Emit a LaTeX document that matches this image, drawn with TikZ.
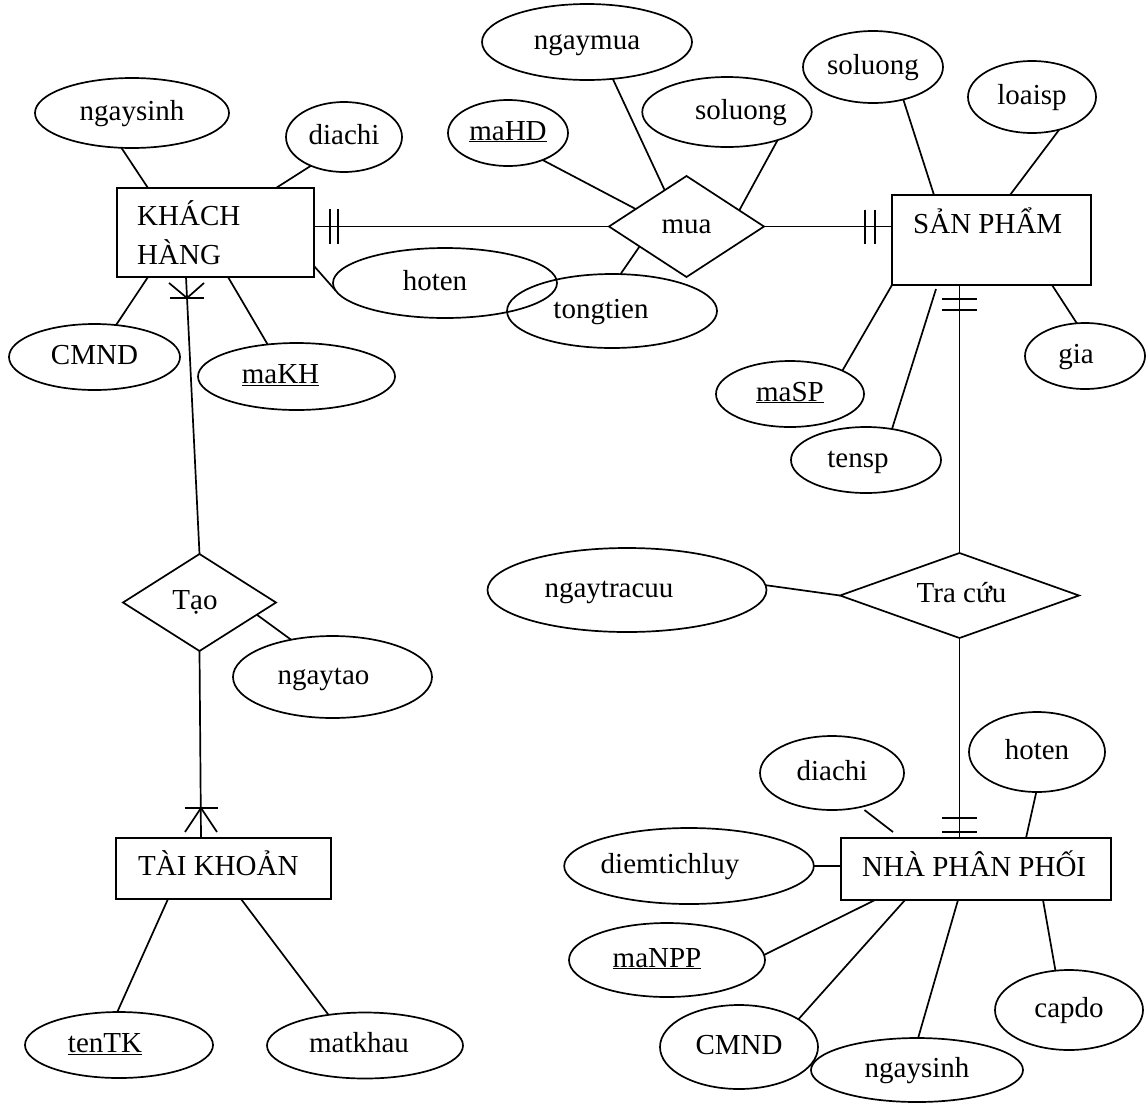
\documentclass[tikz,border=0pt]{standalone}
\usepackage{fontspec}
\setmainfont{Liberation Serif}
\usetikzlibrary{shapes.geometric,calc}
\begin{document}
\begin{tikzpicture}[x=1pt,y=-1pt,
  every node/.style={font=\fontsize{29}{35}\selectfont},
  attr/.style={draw, ellipse, line width=1.7pt, inner sep=0pt, outer sep=0pt, text height=20pt, text depth=6pt},
  ent/.style={draw, rectangle, line width=1.7pt, inner sep=0pt, outer sep=0pt},
  rel/.style={draw, diamond, shape aspect=3, line width=1.7pt, inner sep=0pt, outer sep=0pt, text height=20pt, text depth=6pt},
  conn/.style={line width=1.7pt},
  lbl/.style={inner sep=0pt, anchor=base west}]
\useasboundingbox (0,0) rectangle (1146,1104);

% entities
\node[ent, minimum width=197pt, minimum height=89pt] (kh) at (215.5,232.5) {};
\node[lbl] (khT1) at (137,225) {KHÁCH};
\node[lbl] (khT2) at (137,264) {HÀNG};
\node[ent, minimum width=199pt, minimum height=90pt] (sp) at (991.5,240) {};
\node[lbl] (spT) at (913,233) {SẢN PHẨM};
\node[ent, minimum width=215pt, minimum height=61pt] (tk) at (223.5,868.5) {};
\node[lbl] (tkT) at (138,875) {TÀI KHOẢN};
\node[ent, minimum width=270pt, minimum height=62pt] (npp) at (976,869) {};
\node[lbl] (nppT) at (862,876) {NHÀ PHÂN PHỐI};

% relationships
\node[rel, minimum width=155pt, minimum height=101pt] (mua) at (686.5,226.5) {mua};
\node[rel, minimum width=153pt, minimum height=97pt] (tao) at (199.5,602.5) {Tạo\hspace*{9pt}};
\node[rel, minimum width=239pt, minimum height=85pt] (tra) at (959.5,595.5) {\hspace*{4pt}Tra cứu};

% attributes
\node[attr, minimum width=194pt, minimum height=70pt] (ns1) at (132,113) {ngaysinh};
\node[attr, minimum width=116pt, minimum height=70pt] (dc1) at (344,137) {diachi};
\node[attr, minimum width=224pt, minimum height=70pt] (ht1) at (445,283) {hoten\hspace*{20pt}};
\node[attr, minimum width=171pt, minimum height=66pt] (cm1) at (94.5,357) {CMND};
\node[attr, minimum width=197pt, minimum height=67pt] (makh) at (296.5,376.5) {\underline{maKH}\hspace*{32pt}};
\node[attr, minimum width=210pt, minimum height=76pt] (nm) at (587,42) {ngaymua};
\node[attr, minimum width=120pt, minimum height=66pt] (mahd) at (508,133) {\underline{maHD}};
\node[attr, minimum width=140pt, minimum height=70pt] (sl1) at (727,112) {\hspace*{28pt}soluong};
\node[attr, minimum width=210pt, minimum height=74pt] (tt) at (612,311) {tongtien\hspace*{22pt}};
\node[attr, minimum width=140pt, minimum height=72pt] (sl2) at (873,67) {soluong};
\node[attr, minimum width=128pt, minimum height=72pt] (lsp) at (1032,97) {loaisp};
\node[attr, minimum width=120pt, minimum height=66pt] (gia) at (1085,356) {gia\hspace*{18pt}};
\node[attr, minimum width=148pt, minimum height=66pt] (masp) at (790,394) {\underline{maSP}};
\node[attr, minimum width=150pt, minimum height=66pt] (tensp) at (866,460) {tensp\hspace*{16pt}};
\node[attr, minimum width=279pt, minimum height=84pt] (ntc) at (627,590) {ngaytracuu\hspace*{36pt}};
\node[attr, minimum width=199pt, minimum height=82pt] (nt) at (332.5,677) {ngaytao\hspace*{18pt}};
\node[attr, minimum width=144pt, minimum height=74pt] (dc2) at (832,773) {diachi};
\node[attr, minimum width=136pt, minimum height=80pt] (ht2) at (1037,752) {hoten};
\node[attr, minimum width=226pt, minimum height=76pt] (dtl) at (689,866) {diemtichluy\hspace*{38pt}};
\node[attr, minimum width=196pt, minimum height=74pt] (manpp) at (667,960) {\underline{maNPP}\hspace*{20pt}};
\node[attr, minimum width=148pt, minimum height=80pt] (cd) at (1069,1010) {capdo};
\node[attr, minimum width=158pt, minimum height=84pt] (cm2) at (739,1047) {CMND};
\node[attr, minimum width=212pt, minimum height=64pt] (ns2) at (917,1070) {ngaysinh};
\node[attr, minimum width=188pt, minimum height=66pt] (tentk) at (119,1045) {\underline{tenTK}\hspace*{28pt}};
\node[attr, minimum width=196pt, minimum height=66pt] (mk) at (365,1045.5) {matkhau\hspace*{12pt}};

% KHACH HANG attributes
\draw[conn] (ns1.253) -- ([xshift=31pt]kh.north west);
\draw[conn] (dc1.221) -- ([xshift=-38pt]kh.north east);
\draw[conn] ([yshift=11pt]kh.south east) -- (ht1.184);
\draw[conn] ([xshift=31pt]kh.south west) -- (cm1.56);
\draw[conn] ([xshift=111pt]kh.south west) -- (makh.132);

% KHACH HANG -- mua (one and only one)
\coordinate (khR) at (kh.east |- mua.west);
\draw[conn] (khR) -- (mua.west);
\draw[conn] ([xshift=16pt,yshift=17.5pt]khR) -- ([xshift=16pt,yshift=-17.5pt]khR);
\draw[conn] ([xshift=24pt,yshift=17.5pt]khR) -- ([xshift=24pt,yshift=-17.5pt]khR);

% mua attributes
\draw[conn] (nm.-55) -- (mua.121.6);
\draw[conn] (mahd.-38.7) -- (mua.161.6);
\draw[conn] (sl1.-29) -- (mua.17.8);
\draw[conn] (mua.203.7) -- (tt.77);

% mua -- SAN PHAM
\coordinate (spL) at (mua.east -| sp.west);
\draw[conn] (mua.east) -- (spL);
\draw[conn] ([xshift=-27pt,yshift=17pt]spL) -- ([xshift=-27pt,yshift=-17pt]spL);
\draw[conn] ([xshift=-17pt,yshift=17pt]spL) -- ([xshift=-17pt,yshift=-17pt]spL);

% SAN PHAM attributes
\draw[conn] (sl2.-47.5) -- ([xshift=42pt]sp.north west);
\draw[conn] (lsp.-50) -- ([xshift=118pt]sp.north west);
\draw[conn] (sp.south west) -- (masp.24);
\draw[conn] ([xshift=44pt,yshift=-4pt]sp.south west) -- (tensp.50);
\draw[conn] ([xshift=-39pt]sp.south east) -- (gia.104);

% SAN PHAM -- Tra cuu
\coordinate (spB) at (tra.north |- sp.south);
\draw[conn] (spB) -- (tra.north);
\draw[conn] ([xshift=-17.5pt,yshift=-14pt]spB) -- ([xshift=17.5pt,yshift=-14pt]spB);
\draw[conn] ([xshift=-17.5pt,yshift=-25pt]spB) -- ([xshift=17.5pt,yshift=-25pt]spB);
\draw[conn] (ntc.2) -- (tra.west);

% Tra cuu -- NHA PHAN PHOI
\coordinate (nppTop) at (tra.south |- npp.north);
\draw[conn] (tra.south) -- (nppTop);
\draw[conn] ([xshift=-17.5pt,yshift=6pt]nppTop) -- ([xshift=17.5pt,yshift=6pt]nppTop);
\draw[conn] ([xshift=-17.5pt,yshift=20pt]nppTop) -- ([xshift=17.5pt,yshift=20pt]nppTop);

% NHA PHAN PHOI attributes
\draw[conn, shorten <=5pt] (dc2.-50) -- ([xshift=52pt,yshift=6pt]npp.north west);
\draw[conn] (ht2.-91) -- ([xshift=185pt]npp.north west);
\draw[conn] (dtl.east) -- (dtl.east -| npp.west);
\draw[conn] (manpp.3) -- ([xshift=34pt]npp.south west);
\draw[conn] ([xshift=64pt]npp.south west) -- (cm2.25);
\draw[conn] ([xshift=117pt]npp.south west) -- (ns2.88);
\draw[conn] ([xshift=202pt]npp.south west) -- (cd.109);

% KHACH HANG -- Tao (one or many)
\coordinate (khB) at ([xshift=69pt]kh.south west);
\draw[conn] (khB) -- (tao.north);
\coordinate (cf1) at ($(khB)!21pt!(tao.north)$);
\draw[conn] ([xshift=-17pt]cf1) -- ([xshift=17pt]cf1);
\draw[conn] ([xshift=-18pt,yshift=15pt]cf1) -- (cf1) -- ([xshift=17pt,yshift=15pt]cf1);
\draw[conn] (tao.-12.5) -- (nt.138);

% Tao -- TAI KHOAN (one or many)
\coordinate (tkTop) at ([xshift=85pt]tk.north west);
\draw[conn] (tao.south) -- (tkTop);
\coordinate (cf2) at ([yshift=30pt]tkTop);
\draw[conn] ([xshift=-16.5pt]cf2) -- ([xshift=16.5pt]cf2);
\draw[conn] ([xshift=-16pt,yshift=6pt]tkTop) -- (cf2) -- ([xshift=16pt,yshift=6pt]tkTop);

% TAI KHOAN attributes
\draw[conn] ([xshift=52pt]tk.south west) -- (tentk.93);
\draw[conn] ([xshift=125pt]tk.south west) -- (mk.140);
\end{tikzpicture}
\end{document}
